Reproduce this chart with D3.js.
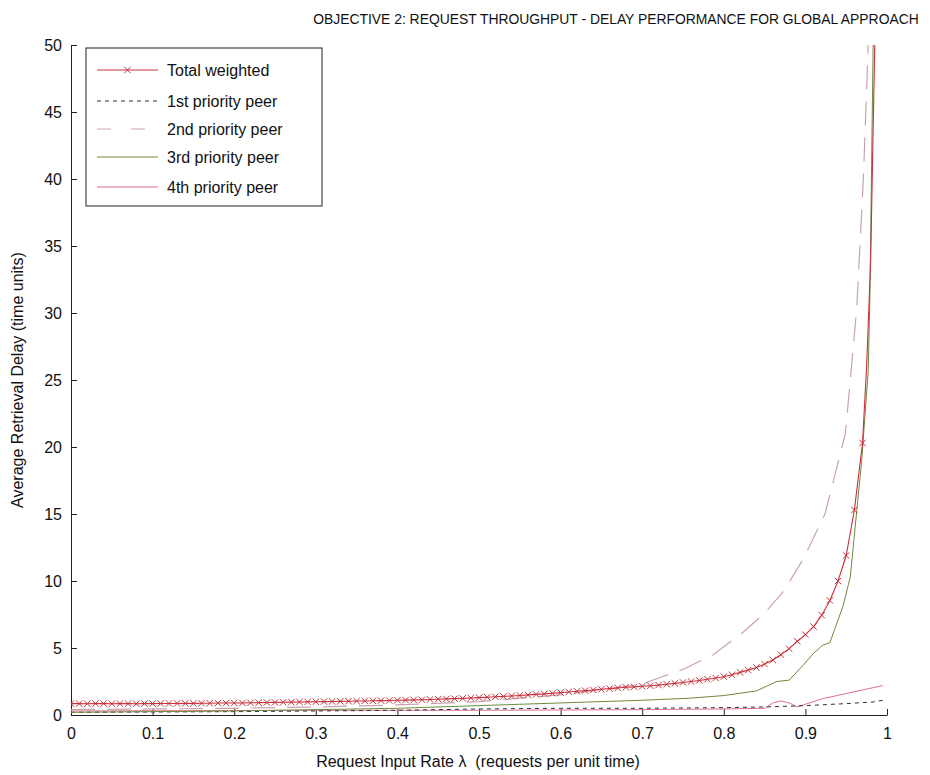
<!DOCTYPE html>
<html><head><meta charset="utf-8">
<script src="https://cdn.jsdelivr.net/npm/d3@7"></script>
<style>body{margin:0;background:#fff}svg{display:block}</style>
</head><body>
<svg id="c" width="930" height="775"></svg>
<script>
const title = "OBJECTIVE 2: REQUEST THROUGHPUT - DELAY PERFORMANCE FOR GLOBAL APPROACH";
const xLabel = "Request Input Rate \u03BB  (requests per unit time)";
const yLabel = "Average Retrieval Delay (time units)";
const xTicks = [0,0.1,0.2,0.3,0.4,0.5,0.6,0.7,0.8,0.9,1];
const yTicks = [0,5,10,15,20,25,30,35,40,45,50];
const seriesNames = ["Total weighted","1st priority peer","2nd priority peer","3rd priority peer","4th priority peer"];

const totalLambda = d3.range(0, 98).map(i => i/100).concat([0.975, 0.98, 0.985]);
const totalValues = [
 0.85,0.85,0.84,0.85,0.85,0.84,0.85,0.85,0.84,0.85,
 0.85,0.86,0.86,0.86,0.87,0.87,0.88,0.88,0.89,0.89,
 0.90,0.90,0.91,0.92,0.93,0.94,0.95,0.96,0.97,0.98,
 0.99,1.00,1.01,1.02,1.03,1.04,1.05,1.06,1.07,1.08,
 1.10,1.11,1.13,1.14,1.16,1.18,1.20,1.22,1.24,1.27,
 1.30,1.33,1.36,1.39,1.42,1.46,1.50,1.54,1.58,1.62,
 1.67,1.72,1.77,1.82,1.87,1.92,1.97,2.02,2.07,2.10,
 2.14,2.18,2.23,2.30,2.36,2.43,2.50,2.58,2.67,2.76,
 2.86,3.00,3.18,3.35,3.55,3.80,4.10,4.50,4.95,5.50,
 6.00,6.60,7.45,8.55,10.0,11.9,15.3,20.3,
 26,34,50];

const p1Lambda = [0,0.2,0.4,0.5,0.6,0.7,0.8,0.85,0.9,0.95,0.983,0.995];
const p1Values = [0.2,0.25,0.35,0.45,0.5,0.5,0.55,0.6,0.7,0.85,0.97,1.1];

const p2Lambda = [0,0.1,0.2,0.3,0.4,0.5,0.6,0.65,0.7,0.722,0.75,0.787,0.824,0.85,0.873,0.897,0.924,0.949,0.963,0.971,0.977];
const p2Values = [0.4,0.45,0.5,0.6,0.75,1.0,1.5,1.9,2.3,2.8,3.4,4.5,6.2,7.6,9.2,11.6,15,21,30.4,40,50];

const p3Lambda = [0,0.1,0.2,0.3,0.4,0.5,0.55,0.6,0.65,0.7,0.757,0.8,0.84,0.865,0.88,0.897,0.91,0.921,0.93,0.946,0.955,0.969,0.977,0.979,0.983];
const p3Values = [0.2,0.25,0.3,0.4,0.5,0.7,0.8,0.9,1.0,1.1,1.25,1.45,1.8,2.5,2.6,3.7,4.6,5.2,5.4,8.1,10.3,19,25.7,31,50];

const p4Lambda = [0,0.3,0.5,0.7,0.8,0.85,0.86,0.87,0.88,0.89,0.92,0.95,0.98,0.995];
const p4Values = [0.3,0.35,0.35,0.4,0.45,0.5,0.9,1.05,0.9,0.6,1.2,1.6,2.0,2.2];

const svg = d3.select("#c");
const m = {l:71, r:887, t:45, b:715};
const x = d3.scaleLinear().domain([0,1]).range([m.l, m.r]);
const y = d3.scaleLinear().domain([0,50]).range([m.b, m.t]);
const font = "'Liberation Sans', Arial, sans-serif";

svg.append("defs").append("clipPath").attr("id","clip")
  .append("rect").attr("x",m.l).attr("y",m.t).attr("width",m.r-m.l).attr("height",m.b-m.t);

// axes
const xAxis = svg.append("g").attr("transform",`translate(0,${m.b})`)
  .call(d3.axisBottom(x).tickValues(xTicks).tickFormat(d3.format("")).tickSizeInner(-6).tickSizeOuter(0).tickPadding(13));
const yAxis = svg.append("g").attr("transform",`translate(${m.l},0)`)
  .call(d3.axisLeft(y).tickValues(yTicks).tickSizeInner(-6).tickSizeOuter(0).tickPadding(9));
[xAxis,yAxis].forEach(a=>{
  a.selectAll("text").attr("font-family",font).attr("font-size",16).attr("fill","#111");
  a.selectAll("line").attr("stroke","#222");
  a.select(".domain").attr("stroke","#222");
});

const g = svg.append("g").attr("clip-path","url(#clip)");
const line = d3.line().x(d=>x(d[0])).y(d=>y(d[1]));
const zip = (a,b)=>a.map((v,i)=>[v,b[i]]);

const styles = [
  {data: zip(totalLambda,totalValues), color:"#c8323c", dash:null, w:1.1},
  {data: zip(p1Lambda,p1Values), color:"#2a2f4a", dash:"4,4", w:1},
  {data: zip(p2Lambda,p2Values), color:"#c9a3ad", dash:"24,12", w:1.2},
  {data: zip(p3Lambda,p3Values), color:"#6e8a3c", dash:null, w:1},
  {data: zip(p4Lambda,p4Values), color:"#e0708c", dash:null, w:1}
];
[4,1,2,3,0].forEach(i=>{
  const s = styles[i];
  g.append("path").attr("d", line(s.data)).attr("fill","none")
    .attr("stroke",s.color).attr("stroke-width",s.w).attr("stroke-dasharray",s.dash);
});
// markers for total weighted
const mk = 3.2;
g.selectAll(".mk").data(styles[0].data.filter(d=>d[1]<25)).enter().append("path")
  .attr("d", d=>{const cx=x(d[0]), cy=y(d[1]); return `M${cx-mk},${cy-mk}L${cx+mk},${cy+mk}M${cx-mk},${cy+mk}L${cx+mk},${cy-mk}`;})
  .attr("stroke","#c8323c").attr("stroke-width",1).attr("fill","none");

// legend
const lg = svg.append("g");
lg.append("rect").attr("x",86).attr("y",48).attr("width",236).attr("height",158)
  .attr("fill","#fff").attr("stroke","#222").attr("stroke-width",1);
const ly = [70,101,129,157,187];
seriesNames.forEach((n,i)=>{
  const s = styles[i];
  lg.append("line").attr("x1",97).attr("x2",158).attr("y1",ly[i]).attr("y2",ly[i])
    .attr("stroke",s.color).attr("stroke-width",s.w).attr("stroke-dasharray", i===1?"4,4":(i===2?"14,20":null));
  if(i===0){
    const cx=127.5, cy=ly[i];
    lg.append("path").attr("d",`M${cx-mk},${cy-mk}L${cx+mk},${cy+mk}M${cx-mk},${cy+mk}L${cx+mk},${cy-mk}`)
      .attr("stroke",s.color).attr("stroke-width",1);
  }
  lg.append("text").attr("x",167).attr("y",ly[i]+5.5).text(n)
    .attr("font-family",font).attr("font-size",16).attr("fill","#111");
});

// title (horizontally condensed to the reference's width) and labels
const tg = svg.append("g");
const tt = tg.append("text").attr("x",0).attr("y",0).attr("text-anchor","middle").text(title)
  .attr("font-family",font).attr("font-size",15).attr("fill","#111");
const natural = tt.node().getComputedTextLength();
const sx = Math.min(1, 606 / natural);
tg.attr("transform",`translate(616,24) scale(${sx},1)`);

svg.append("text").attr("x",478).attr("y",767).attr("text-anchor","middle").text(xLabel)
  .attr("font-family",font).attr("font-size",16).attr("fill","#111").style("white-space","pre").attr("xml:space","preserve");
svg.append("text").attr("transform","translate(23,380) rotate(-90)").attr("text-anchor","middle").text(yLabel)
  .attr("font-family",font).attr("font-size",16).attr("fill","#111");
</script>
</body></html>
